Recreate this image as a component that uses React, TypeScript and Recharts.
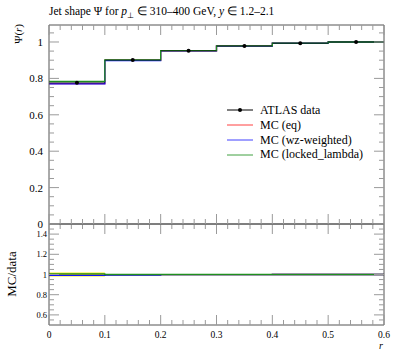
import React from "react";
import {
  ComposedChart,
  Line,
  Scatter,
  Area,
  XAxis,
  YAxis,
  ErrorBar,
} from "recharts";

// bin edges in r, and bin centres for the data points
const EDGES = [0, 0.1, 0.2, 0.3, 0.4, 0.5, 0.6];
const CENTRES = [0.05, 0.15, 0.25, 0.35, 0.45, 0.55];

// ATLAS data + MC predictions, Psi(r)
const DATA = [0.776, 0.901, 0.952, 0.978, 0.993, 1.0];
const DATA_ERR = [0.005, 0.004, 0.003, 0.003, 0.002, 0.001];
const MC_EQ = [0.771, 0.899, 0.951, 0.978, 0.993, 1.0];
const MC_WZ = [0.77, 0.898, 0.951, 0.977, 0.993, 1.0];
const MC_LOCKED = [0.783, 0.902, 0.953, 0.979, 0.994, 1.0];

// ratio panel
const RATIO_EQ = [0.992, 0.996, 0.998, 0.999, 1.0, 1.0];
const RATIO_WZ = [0.991, 0.995, 0.998, 0.999, 1.0, 1.0];
const RATIO_LOCKED = [1.006, 1.0, 1.0, 1.0, 1.0, 1.0];
const RATIO_BAND = [0.02, 0.006, 0.004, 0.004, 0.002, 0.001];

// ticks
const X_MAJOR = [0, 0.1, 0.2, 0.3, 0.4, 0.5, 0.6];
const X_MINOR = [
  0.02, 0.04, 0.06, 0.08, 0.12, 0.14, 0.16, 0.18, 0.22, 0.24, 0.26, 0.28,
  0.32, 0.34, 0.36, 0.38, 0.42, 0.44, 0.46, 0.48, 0.52, 0.54, 0.56, 0.58,
];
const Y_MAJOR = [0, 0.2, 0.4, 0.6, 0.8, 1];
const Y_MINOR = [
  0.05, 0.1, 0.15, 0.25, 0.3, 0.35, 0.45, 0.5, 0.55, 0.65, 0.7, 0.75, 0.85,
  0.9, 0.95, 1.05,
];
const R_MAJOR = [0.6, 0.8, 1, 1.2, 1.4];
const R_MINOR = [
  0.55, 0.65, 0.7, 0.75, 0.85, 0.9, 0.95, 1.05, 1.1, 1.15, 1.25, 1.3, 1.35,
  1.45,
];

const FONT = "'Liberation Serif', serif";
const FRAME = "#555";
const TICK = "#9a9a9a";
const RED = "#ff2020";
const BLUE = "#1010ff";
const GREEN = "#1f8f1f";

const W = 397;

const isMajor = (majors: number[], v: number) =>
  majors.some((m) => Math.abs(m - v) < 1e-9);

// rivet-style ticks: drawn inwards, major 10px, minor 5px
function makeTick(
  side: "left" | "right" | "top" | "bottom",
  majors: number[],
  label?: { size: number; gap: number }
) {
  return (p: any) => {
    const v = p.payload.value;
    const major = isMajor(majors, v);
    const len = major ? 10 : 5;
    const x = p.x;
    const y = p.y;
    let x2 = x;
    let y2 = y;
    if (side === "left") x2 = x + len;
    if (side === "right") x2 = x - len;
    if (side === "top") y2 = y + len;
    if (side === "bottom") y2 = y - len;
    return (
      <g>
        <line x1={x} y1={y} x2={x2} y2={y2} stroke={TICK} strokeWidth={1} />
        {label && major ? (
          side === "left" ? (
            <text
              x={x - label.gap}
              y={y}
              textAnchor="end"
              dominantBaseline="central"
              fontSize={label.size}
              fontFamily={FONT}
              fill="#000"
            >
              {String(v)}
            </text>
          ) : (
            <text
              x={x}
              y={y + label.gap}
              textAnchor="middle"
              dominantBaseline="hanging"
              fontSize={label.size}
              fontFamily={FONT}
              fill="#000"
            >
              {String(v)}
            </text>
          )
        ) : null}
      </g>
    );
  };
}

function frameAxes(
  yDomain: [number, number],
  yMajor: number[],
  yMinor: number[],
  yLabel: { size: number; gap: number },
  xLabel?: { size: number; gap: number }
) {
  const common = {
    allowDataOverflow: true,
    type: "number" as const,
    interval: 0 as const,
    tickSize: 0,
    tickMargin: 0,
    tickLine: false,
    stroke: FRAME,
  };
  const xTicks = [...X_MAJOR, ...X_MINOR].sort((a, b) => a - b);
  const yTicks = [...yMajor, ...yMinor].sort((a, b) => a - b);
  return [
    <XAxis
      key="xb"
      xAxisId={0}
      dataKey="x"
      {...common}
      domain={[0, 0.6]}
      ticks={xTicks}
      height={1}
      tick={makeTick("bottom", X_MAJOR, xLabel)}
    />,
    <XAxis
      key="xt"
      xAxisId="xt"
      dataKey="x"
      orientation="top"
      {...common}
      domain={[0, 0.6]}
      ticks={xTicks}
      height={1}
      tick={makeTick("top", X_MAJOR)}
    />,
    <YAxis
      key="yl"
      yAxisId={0}
      {...common}
      domain={yDomain}
      ticks={yTicks}
      width={1}
      tick={makeTick("left", yMajor, yLabel)}
    />,
    <YAxis
      key="yr"
      yAxisId="yr"
      orientation="right"
      {...common}
      domain={yDomain}
      ticks={yTicks}
      width={1}
      tick={makeTick("right", yMajor)}
    />,
  ];
}

const dot = (p: any) => <circle cx={p.cx} cy={p.cy} r={2} fill="#000" />;

const stepRows = EDGES.map((x, i) => {
  const j = Math.min(i, 5);
  return {
    x,
    eq: MC_EQ[j],
    wz: MC_WZ[j],
    locked: MC_LOCKED[j],
    req: RATIO_EQ[j],
    rwz: RATIO_WZ[j],
    rlocked: RATIO_LOCKED[j],
    band: [1 - RATIO_BAND[j], 1 + RATIO_BAND[j]],
  };
});

const points = CENTRES.map((x, i) => ({
  x,
  y: DATA[i],
  ex: 0.05,
  ey: DATA_ERR[i],
}));

const legendItems = [
  { label: "ATLAS data", color: "#000", dot: true },
  { label: "MC (eq)", color: "#ff4040" },
  { label: "MC (wz-weighted)", color: "#4040ff" },
  { label: "MC (locked_lambda)", color: "#40a040" },
];

// invisible series so the mirrored top/right axes get a proper scale
const anchorLine = (key: string) => (
  <Line
    dataKey={key}
    xAxisId="xt"
    yAxisId="yr"
    stroke="none"
    dot={false}
    activeDot={false}
    legendType="none"
    isAnimationActive={false}
  />
);

export default function App() {
  return (
    <div
      style={{
        position: "absolute",
        left: 0,
        top: 0,
        width: W,
        height: 358,
        background: "#fff",
        fontFamily: FONT,
      }}
    >
      <style>{".recharts-surface{overflow:visible}"}</style>

      <div style={{ position: "absolute", left: 0, top: 223 }}>
        <ComposedChart
          width={W}
          height={135}
          data={stepRows}
          margin={{ top: 0, right: 12, bottom: 32, left: 48 }}
        >
          {frameAxes(
            [0.5, 1.5],
            R_MAJOR,
            R_MINOR,
            { size: 8.5, gap: 2 },
            { size: 9.5, gap: 7 }
          )}
          {anchorLine("req")}
          <Area
            dataKey="band"
            type="stepAfter"
            fill="#f5e800"
            fillOpacity={0.9}
            stroke="none"
            isAnimationActive={false}
          />
          <Line
            dataKey="req"
            type="stepAfter"
            stroke={RED}
            strokeWidth={1.3}
            dot={false}
            isAnimationActive={false}
          />
          <Line
            dataKey="rwz"
            type="stepAfter"
            stroke={BLUE}
            strokeWidth={1.3}
            dot={false}
            isAnimationActive={false}
          />
          <Line
            dataKey="rlocked"
            type="stepAfter"
            stroke={GREEN}
            strokeWidth={1.3}
            dot={false}
            isAnimationActive={false}
          />
        </ComposedChart>
      </div>

      <div style={{ position: "absolute", left: 0, top: 0 }}>
        <ComposedChart
          width={W}
          height={225}
          data={stepRows}
          margin={{ top: 24, right: 12, bottom: 0, left: 48 }}
        >
          {frameAxes([0, 1.0934], Y_MAJOR, Y_MINOR, { size: 11, gap: 6 })}
          {anchorLine("eq")}
          <Line
            dataKey="eq"
            type="stepAfter"
            stroke={RED}
            strokeWidth={1.3}
            dot={false}
            isAnimationActive={false}
          />
          <Line
            dataKey="wz"
            type="stepAfter"
            stroke={BLUE}
            strokeWidth={1.3}
            dot={false}
            isAnimationActive={false}
          />
          <Line
            dataKey="locked"
            type="stepAfter"
            stroke={GREEN}
            strokeWidth={1.3}
            dot={false}
            isAnimationActive={false}
          />
          <Scatter
            data={points}
            dataKey="y"
            shape={dot}
            isAnimationActive={false}
          >
            <ErrorBar
              dataKey="ex"
              direction="x"
              width={0}
              stroke="#000"
              strokeWidth={1}
              opacity={0.6}
              isAnimationActive={false}
            />
            <ErrorBar
              dataKey="ey"
              direction="y"
              width={0}
              stroke="#000"
              strokeWidth={1}
              isAnimationActive={false}
            />
          </Scatter>
        </ComposedChart>
      </div>

      {/* title */}
      <div
        style={{
          position: "absolute",
          left: 49,
          top: 4,
          fontSize: 11.5,
          whiteSpace: "nowrap",
        }}
      >
        Jet shape Ψ for <i>p</i>
        <sub style={{ fontSize: 8 }}>⊥</sub> ∈ 310–400 GeV, <i>y</i> ∈ 1.2–2.1
      </div>

      {/* axis labels */}
      <div
        style={{
          position: "absolute",
          left: 12,
          top: 24,
          fontSize: 11,
          whiteSpace: "nowrap",
          transform: "translate(-100%, 0) rotate(-90deg)",
          transformOrigin: "100% 0",
        }}
      >
        Ψ(<i>r</i>)
      </div>
      <div
        style={{
          position: "absolute",
          left: 12,
          top: 274,
          fontSize: 13,
          whiteSpace: "nowrap",
          transform: "translate(-50%, -50%) rotate(-90deg)",
        }}
      >
        MC/data
      </div>
      <div
        style={{
          position: "absolute",
          left: 379,
          top: 340,
          fontSize: 10,
        }}
      >
        <i>r</i>
      </div>

      {/* legend */}
      <div style={{ position: "absolute", left: 227, top: 103 }}>
        {legendItems.map((it) => (
          <div
            key={it.label}
            style={{
              display: "flex",
              alignItems: "center",
              height: 14.8,
              fontSize: 12,
              whiteSpace: "nowrap",
            }}
          >
            <svg width={26} height={6} style={{ marginRight: 7 }}>
              <line x1={0} y1={3} x2={26} y2={3} stroke={it.color} strokeWidth={1} />
              {it.dot ? <circle cx={13} cy={3} r={2} fill="#000" /> : null}
            </svg>
            {it.label}
          </div>
        ))}
      </div>
    </div>
  );
}
